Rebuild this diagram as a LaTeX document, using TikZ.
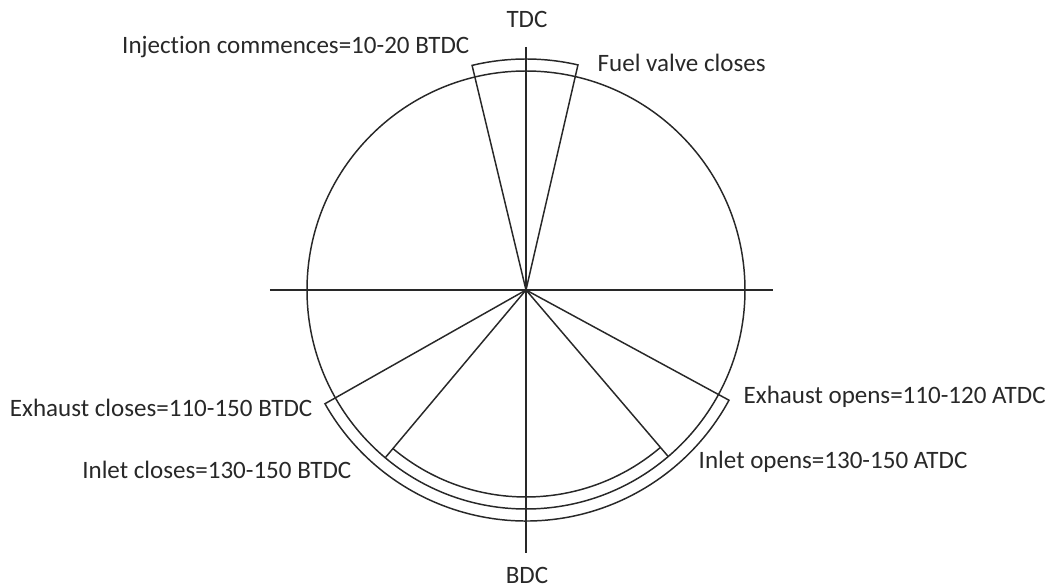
\documentclass[tikz,border=0pt]{standalone}
\usepackage{fontspec}
\setmainfont{Carlito}[Ligatures=NoCommon]
\usetikzlibrary{positioning}
\definecolor{inkgray}{RGB}{40,40,40}

\begin{document}
\begin{tikzpicture}[line width=1.05pt, color=inkgray,
    lbl/.style={font=\fontsize{17.8}{21}\selectfont, inner sep=0pt}]
  \def\R{5.475}   % circle radius
  \def\Ro{5.775}  % outer strip radius
  \def\Ri{5.175}  % inner strip radius
  \useasboundingbox (-13.15,-7.45) rectangle (13.175,7.25);

  \coordinate (O) at (0,0);
  \coordinate (top) at (0,6.075);
  \coordinate (bot) at (0,-6.575);
  \coordinate (lft) at (-6.4,0);
  \coordinate (rgt) at (6.175,0);

  % dead centre axes
  \draw (top) -- (bot);
  \draw (lft) -- (rgt);

  % crank circle
  \draw (O) circle[radius=\R];

  % valve and injection timing lines
  \foreach \a in {103.5, 77, -28.5, -49.5, 230, 209.5}
    \draw (O) -- (\a:\R);

  % fuel injection strip
  \draw (103.5:\R) -- (103.5:\Ro) arc[start angle=103.5, end angle=77, radius=\Ro] -- (77:\R);

  % exhaust strip
  \draw (209.5:\R) -- (209.5:\Ro) arc[start angle=209.5, end angle=331.5, radius=\Ro] -- (331.5:\R);

  % inlet strip
  \draw (230:\Ri) arc[start angle=230, end angle=310.5, radius=\Ri];

  % Labels
  \node[lbl] (tdc) at (0.025, 6.775) {TDC};
  \node[lbl] (bdc) at (0.025, -7.125) {BDC};
  \node[lbl, anchor=east] (inj) at (-1.4, 6.075) {Injection commences=10-20 BTDC};
  \node[lbl, anchor=west] (fuel) at (1.775, 5.675) {Fuel valve closes};
  \node[lbl, anchor=west] (exo) at (5.425, -2.675) {Exhaust opens=110-120 ATDC};
  \node[lbl, anchor=west] (ino) at (4.3, -4.3) {Inlet opens=130-150 ATDC};
  \node[lbl, anchor=east] (exc) at (-5.325, -2.95) {Exhaust closes=110-150 BTDC};
  \node[lbl, anchor=east] (inc) at (-4.35, -4.5) {Inlet closes=130-150 BTDC};
\end{tikzpicture}
\end{document}
